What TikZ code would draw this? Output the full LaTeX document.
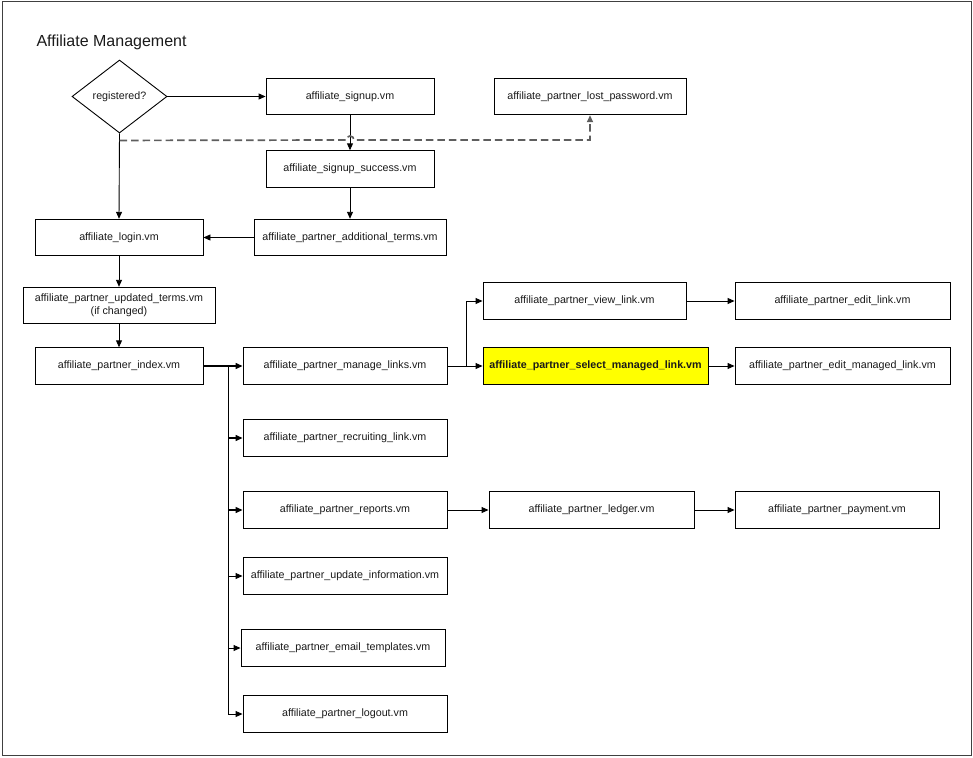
\documentclass[tikz,border=0pt]{standalone}
\usepackage{fontspec}
\setmainfont{Liberation Sans}
\usetikzlibrary{positioning, arrows.meta, shapes.geometric}
\definecolor{clrline}{HTML}{000000}
\definecolor{clrframe}{HTML}{404040}
\definecolor{clrdash}{HTML}{5E5E5E}
\definecolor{clrhilite}{HTML}{FFFF00}
\definecolor{clrtext}{HTML}{1A1A1A}

\begin{document}
\begin{tikzpicture}[
    x=1pt, y=-1pt,
    >={Triangle[length=7pt, width=6pt]},
    every node/.style={font=\fontsize{10.7}{12.6}\selectfont, text=clrtext},
    page/.style={draw=clrline, line width=0.9pt, fill=white, inner sep=0pt,
                 minimum height=36.5pt, align=center},
    decision/.style={diamond, draw=clrline, line width=0.9pt, fill=white, inner sep=0pt,
                     minimum width=95pt, minimum height=73pt},
    arrow/.style={->, draw=clrline, line width=0.9pt},
    trunk/.style={->, draw=clrline, line width=1.3pt},
    dashlink/.style={->, draw=clrdash, line width=1.7pt, dash pattern=on 7.5pt off 4pt},
    title/.style={font=\fontsize{16}{19}\selectfont, anchor=west},
]
\useasboundingbox (0,0) rectangle (973,757);
\draw[clrframe, line width=1pt] (2,2) rectangle (971,755);
\node[title] (t_0) at (33,42) {Affiliate Management};
% top rows
\node[decision] (reg) at (119.5,96.5) {registered?};
\node[page, minimum width=168pt] (signup) at (350,96.5) {affiliate\_signup.vm};
\node[page, minimum width=192pt] (lostpw) at (590,96.5) {affiliate\_partner\_lost\_password.vm};
\node[page, minimum width=168pt] (success) at (350,169) {affiliate\_signup\_success.vm};
\node[page, minimum width=192pt] (addterms) at (350,237.5) {affiliate\_partner\_additional\_terms.vm};
\node[page, minimum width=168pt] (login) at (119,237.5) {affiliate\_login.vm};
\node[page, minimum width=192pt] (updterms) at (119,305.5) {affiliate\_partner\_updated\_terms.vm\\(if changed)};
\node[page, minimum width=168pt] (index) at (119,366) {affiliate\_partner\_index.vm};
% partner pages
\node[page, minimum width=204pt] (manage) at (345,366) {affiliate\_partner\_manage\_links.vm};
\node[page, minimum width=203pt] (view) at (584.5,301) {affiliate\_partner\_view\_link.vm};
\node[page, minimum width=225pt, fill=clrhilite, font=\fontsize{10.7}{12.6}\selectfont\bfseries] (select) at (595.5,366) {affiliate\_partner\_select\_managed\_link.vm};
\node[page, minimum width=215pt] (editlink) at (842.5,301) {affiliate\_partner\_edit\_link.vm};
\node[page, minimum width=215pt] (editmanaged) at (842.5,366) {affiliate\_partner\_edit\_managed\_link.vm};
\node[page, minimum width=204pt] (recruit) at (345,438) {affiliate\_partner\_recruiting\_link.vm};
\node[page, minimum width=204pt] (reports) at (345,510) {affiliate\_partner\_reports.vm};
\node[page, minimum width=205pt] (ledger) at (591.5,510) {affiliate\_partner\_ledger.vm};
\node[page, minimum width=204pt] (payment) at (837,510) {affiliate\_partner\_payment.vm};
\node[page, minimum width=204pt] (updinfo) at (345,576) {affiliate\_partner\_update\_information.vm};
\node[page, minimum width=204pt] (email) at (343,648) {affiliate\_partner\_email\_templates.vm};
\node[page, minimum width=204pt] (logout) at (345,714) {affiliate\_partner\_logout.vm};
\coordinate (hop) at (350,140);
\draw[arrow] (reg.east) -- (signup.west);
\draw[arrow] (reg.south) -- (login.north);
\draw[arrow] (signup.south) -- (success.north);
\draw[arrow] (success.south) -- (addterms.north);
\draw[arrow] (addterms.west) -- (login.east);
\draw[arrow] (login.south) -- (updterms.north);
\draw[arrow] (updterms.south) -- (index.north);
\draw[dashlink] ([yshift=-7pt]reg.south) -- ([xshift=-4pt]hop) arc[start angle=180, end angle=0, radius=4pt] -- (hop -| lostpw.south) -- (lostpw.south);
\draw[trunk] (index.east) -- (manage.west);
\draw[trunk] (index.east) -- ++(25,0) |- (recruit.west);
\draw[trunk] (index.east) -- ++(25,0) |- (reports.west);
\draw[arrow] (index.east) -- ++(25,0) |- (updinfo.west);
\draw[arrow] (index.east) -- ++(25,0) |- (email.west);
\draw[arrow] (index.east) -- ++(25,0) |- (logout.west);
\draw[arrow] (manage.east) -- (select.west);
\draw[arrow] (manage.east) -- ++(19,0) |- (view.west);
\draw[arrow] (view.east) -- (editlink.west);
\draw[arrow] (select.east) -- (editmanaged.west);
\draw[arrow] (reports.east) -- (ledger.west);
\draw[arrow] (ledger.east) -- (payment.west);
\end{tikzpicture}
\end{document}
